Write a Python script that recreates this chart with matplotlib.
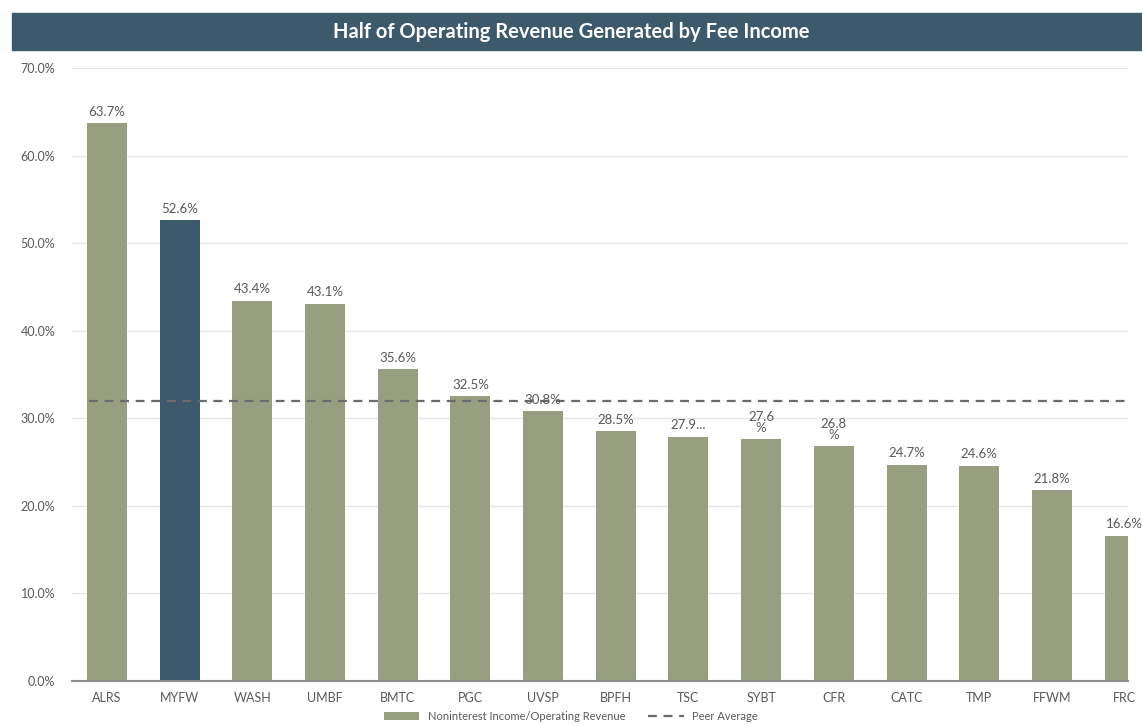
import matplotlib.pyplot as plt
from matplotlib.patches import Rectangle

tickers = ['ALRS', 'MYFW', 'WASH', 'UMBF', 'BMTC', 'PGC', 'UVSP', 'BPFH',
           'TSC', 'SYBT', 'CFR', 'CATC', 'TMP', 'FFWM', 'FRC']
fee_ratio = [63.7, 52.6, 43.4, 43.1, 35.6, 32.5, 30.8, 28.5,
             27.9, 27.6, 26.8, 24.7, 24.6, 21.8, 16.6]
bar_labels = ['63.7%', '52.6%', '43.4%', '43.1%', '35.6%', '32.5%', '30.8%', '28.5%',
              '27.9...', '27.6\n%', '26.8\n%', '24.7%', '24.6%', '21.8%', '16.6%']
peer_avg = 32.0
highlight = 'MYFW'

olive = '#979f80'
navy = '#3d5a6c'
grey_txt = '#595959'

plt.rcParams['font.family'] = ['Lato', 'DejaVu Sans']

fig = plt.figure(figsize=(11.42, 7.25), dpi=100)
ax = fig.add_axes([0.063, 0.0607, 0.925, 0.8453])

colors = [navy if t == highlight else olive for t in tickers]
x = list(range(len(tickers)))
bars = ax.bar(x, fee_ratio, width=0.55, color=colors, zorder=2,
              label='Noninterest Income/Operating Revenue')
avg_line, = ax.plot([-0.25, 14.15], [peer_avg, peer_avg], ls=(0, (4, 3)),
                    color='#6b6b6b', lw=1.6, zorder=3, label='Peer Average')

for b, lab in zip(bars, bar_labels):
    ax.annotate(lab, (b.get_x() + b.get_width() / 2, b.get_height()),
                xytext=(0, 4), textcoords='offset points', ha='center',
                va='bottom', fontsize=9.5, color=grey_txt, linespacing=0.9)

ax.set_xlim(-0.48, 14.05)
ax.set_ylim(0, 70)
ax.set_yticks(range(0, 71, 10))
ax.set_yticklabels([f'{v:.1f}%' for v in range(0, 71, 10)])
ax.set_xticks(x)
ax.set_xticklabels(tickers)
ax.tick_params(axis='both', length=0, labelsize=9, colors=grey_txt)
ax.tick_params(axis='y', pad=12)
ax.tick_params(axis='x', pad=8)
ax.grid(axis='y', color='#e6e6e6', lw=1, zorder=0)
for s in ['top', 'right', 'left']:
    ax.spines[s].set_visible(False)
ax.spines['bottom'].set_color('#8c8c8c')
ax.spines['bottom'].set_linewidth(1.5)

fig.legend(handles=[bars, avg_line], loc='center', bbox_to_anchor=(0.5, 0.012),
           ncol=2, frameon=False, fontsize=8, labelcolor=grey_txt,
           handlelength=3.2, columnspacing=2.0, handleheight=0.7)

# title banner
fig.patches.append(Rectangle((0.0105, 0.931), 0.99, 0.051, transform=fig.transFigure,
                             color=navy, zorder=0))
fig.text(0.5, 0.9565, 'Half of Operating Revenue Generated by Fee Income',
         ha='center', va='center', color='white', fontsize=14.5, fontweight='bold')

fig.savefig('out.png', dpi=100)
